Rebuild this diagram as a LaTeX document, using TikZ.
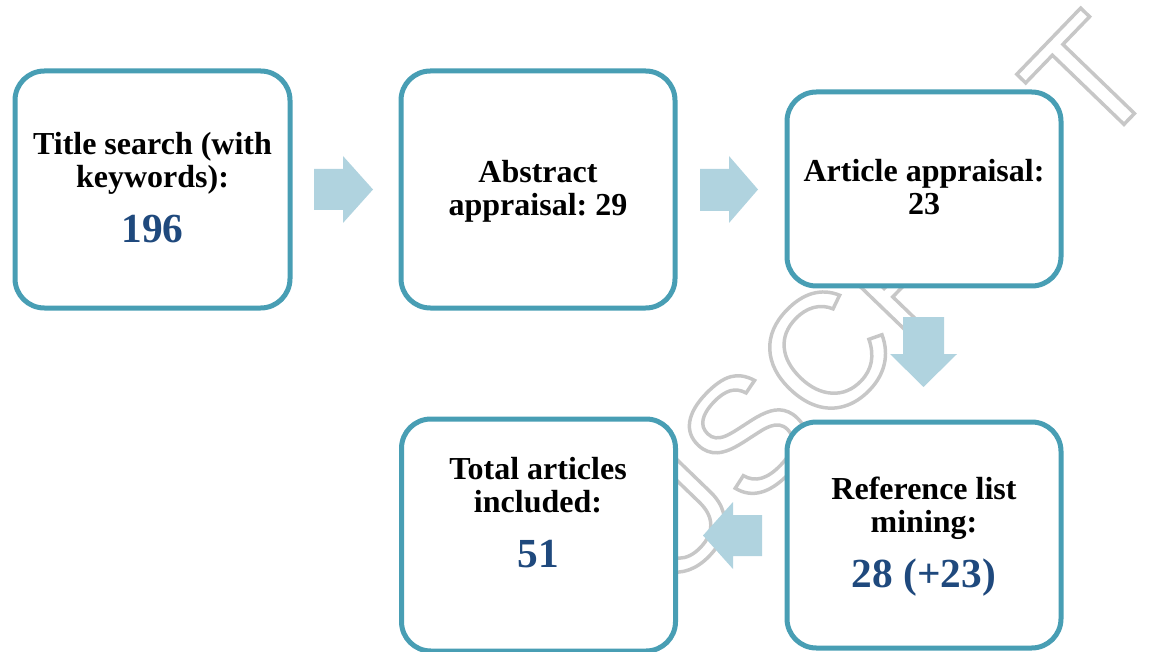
\documentclass[tikz,border=0pt]{standalone}
\usepackage{fontspec}
\setmainfont{Liberation Serif}
\newfontfamily\wmfont{Liberation Sans}
\definecolor{boxline}{HTML}{489EB4}
\definecolor{arrowfill}{HTML}{B0D3DF}
\definecolor{numblue}{HTML}{1F497D}
\definecolor{wmgray}{HTML}{C8C8C8}
\newcommand{\outlinetext}[1]{\special{pdf:literal direct 1 Tr 2.6 w 0.78 G}#1\special{pdf:literal direct 0 Tr}}
\frenchspacing
\begin{document}
\begin{tikzpicture}[x=0.75pt,y=-0.75pt,
  stepbox/.style={draw=boxline, line width=3.75pt, rounded corners=22pt, fill=white, inner sep=0pt},
  boxtext/.style={font=\fontsize{24}{24.75}\selectfont\bfseries, align=center, anchor=base, inner sep=0pt},
  numtext/.style={font=\fontsize{31}{31}\selectfont\bfseries, text=numblue, anchor=base, inner sep=0pt},
  flow/.style={fill=arrowfill}]
\useasboundingbox (0,0) rectangle (1149,652);
% watermark
\begin{scope}
\clip (0,0) rectangle (1149,652);
\node[rotate=46, inner sep=0pt, text=wmgray, font=\wmfont\fontsize{122}{122}\selectfont] (wm) at (750,431)
  {\outlinetext{MANUSCRIPT}};
\end{scope}
% boxes
\node[stepbox, minimum width=206.25pt, minimum height=177.75pt] (b1) at (152.5,189.5) {};
\node[stepbox, minimum width=205.5pt, minimum height=177.75pt] (b2) at (538,189.5) {};
\node[stepbox, minimum width=205.5pt, minimum height=145.5pt] (b3) at (924,189) {};
\node[stepbox, minimum width=205.5pt, minimum height=169.5pt] (b4) at (924,535) {};
\node[stepbox, minimum width=205.5pt, minimum height=174pt] (b5) at (538.5,535) {};
% arrows
\coordinate (a1) at (314,169);
\coordinate (a2) at (700,169);
\coordinate (a3) at (903,317);
\coordinate (a4) at (762,515);
\fill[flow] (a1) -- ++(29,0) -- ++(0,-13) -- ++(30,33.5) -- ++(-30,33.5) -- ++(0,-13) -- ++(-29,0) -- cycle;
\fill[flow] (a2) -- ++(29,0) -- ++(0,-13) -- ++(29,33.5) -- ++(-29,33.5) -- ++(0,-12) -- ++(-29,0) -- cycle;
\fill[flow] (a3) -- ++(41,0) -- ++(0,37) -- ++(13,0) -- ++(-33.5,33) -- ++(-33.5,-33) -- ++(13,0) -- cycle;
\fill[flow] (a4) -- ++(-29,0) -- ++(0,-13) -- ++(-30,33.5) -- ++(30,33.5) -- ++(0,-13) -- ++(29,0) -- cycle;
% texts
\node[boxtext] (t1) at (152.5,188) {Title search (with\\keywords):};
\node[numtext] (n1) at (152.5,243) {196};
\node[boxtext] (t2) at (538,216) {Abstract\\appraisal: 29};
\node[boxtext] (t3) at (924,215) {Article appraisal:\\23};
\node[boxtext] (t4) at (924,532) {Reference list\\mining:};
\node[numtext] (n4) at (924,587) {28 (+23)};
\node[boxtext] (t5) at (538,512) {Total articles\\included:};
\node[numtext] (n5) at (538,567) {51};
\end{tikzpicture}
\end{document}
